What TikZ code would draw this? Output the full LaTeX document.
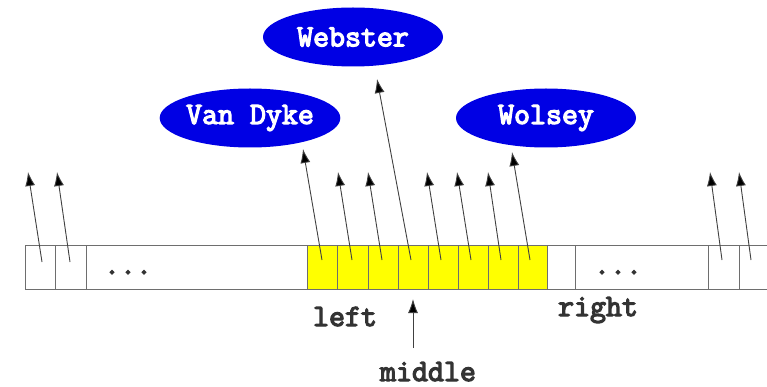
\documentclass[tikz,border=0pt]{standalone}
\usepackage{fontspec}
\setmonofont[AutoFakeBold=4]{Latin Modern Mono}
\usetikzlibrary{shapes.geometric,arrows.meta}
\definecolor{nodeblue}{RGB}{0,0,228}
\definecolor{cellyellow}{RGB}{255,255,0}
\definecolor{gridgray}{RGB}{110,110,110}
\tikzset{
  namebox/.style={ellipse,fill=nodeblue,draw=none,minimum width=180pt,minimum height=59pt,inner sep=0pt,
    text=white,font=\ttfamily\bfseries\fontsize{31}{33}\selectfont},
  lbl/.style={font=\ttfamily\bfseries\fontsize{31}{33}\selectfont,text=black!80,inner sep=0pt,anchor=base},
  ptr/.style={draw=black!75,line width=0.9pt,-{Latex[length=14pt,width=10pt,fill=black]}},
  grid/.style={draw=gridgray,line width=0.8pt}
}
\begin{document}
\begin{tikzpicture}[x=1pt,y=-1pt]
\useasboundingbox (0,0) rectangle (767,387);
% yellow cells
\fill[cellyellow] (307,245) rectangle (547,289);
% array lines
\draw[grid] (767,245) -- (25,245) -- (25,289) -- (767,289);
\foreach \x in {55,86,307,337,368,398,428,458,488,518,547,575,708,739}
  \draw[grid] (\x,245) -- (\x,289);
% dots
\node[lbl] (dotsL) at (128,274) {...};
\node[lbl] (dotsR) at (618,274) {...};
% ellipses
\node[namebox] (web) at (353,37) {Webster};
\node[namebox] (van) at (250,118) {Van Dyke};
\node[namebox] (wol) at (546,118) {Wolsey};
% tails
\coordinate (t1) at (42,262);
\coordinate (t2) at (70,262);
\coordinate (t3) at (322,260);
\coordinate (t4) at (352,260);
\coordinate (t5) at (382,260);
\coordinate (t6) at (411,260);
\coordinate (t7) at (441,260);
\coordinate (t8) at (471,260);
\coordinate (t9) at (501,260);
\coordinate (t10) at (530,260);
\coordinate (t11) at (722,260);
\coordinate (t12) at (751,260);
% heads
\coordinate (h1) at (28,172);
\coordinate (h2) at (57,172);
\coordinate (h3) at (303,149);
\coordinate (h4) at (338,172);
\coordinate (h5) at (368,172);
\coordinate (h6) at (377,79);
\coordinate (h7) at (427,172);
\coordinate (h8) at (457,172);
\coordinate (h9) at (488,172);
\coordinate (h10) at (512,152);
\coordinate (h11) at (710,172);
\coordinate (h12) at (739,172);
\foreach \i in {1,...,12} \draw[ptr] (t\i) -- (h\i);
% labels
\node[lbl] (left) at (345,326) {left};
\node[lbl] (right) at (598,316) {right};
\node[lbl] (middle) at (428,381) {middle};
\coordinate (mtail) at (413,348);
\coordinate (mhead) at (413,299);
\draw[ptr] (mtail) -- (mhead);
\end{tikzpicture}
\end{document}
